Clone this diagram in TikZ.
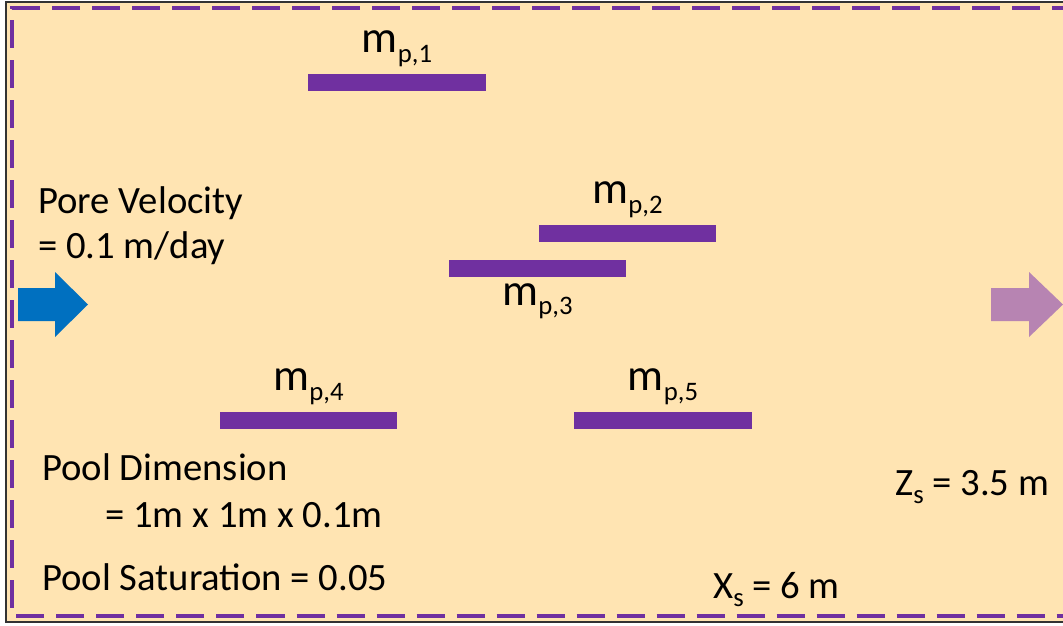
\documentclass[tikz,border=0pt]{standalone}
\usepackage{fontspec}
\setmainfont{Carlito}
\usepackage{tikz}
\usetikzlibrary{positioning}
\usepackage{xcolor}

\definecolor{sandbg}{RGB}{255,228,178}
\definecolor{poolpurple}{RGB}{112,48,160}
\definecolor{inblue}{RGB}{0,112,192}
\definecolor{outmauve}{RGB}{183,132,178}

\newcommand{\lowsub}[1]{\raisebox{-0.45ex}{\fontsize{19}{19}\selectfont #1}}

\begin{document}
\begin{tikzpicture}[
    x=0.025cm, y=-0.025cm,
    pool/.style={draw=none, fill=poolpurple, rectangle, inner sep=0pt, minimum width=4.425cm, minimum height=0.425cm},
    masslabel/.style={font=\fontsize{32}{36}\selectfont, inner sep=1pt},
    infotext/.style={font=\fontsize{27.5}{32}\selectfont, anchor=base west, inner sep=0pt}
]

\useasboundingbox (0,0) rectangle (1063,625);
\fill[sandbg] (6,2) rectangle (1063,622);
\draw[black!80, line width=2pt] (1063,2) -- (6,2) -- (6,622) -- (1063,622);
\draw[poolpurple, line width=2.8pt, dash pattern=on 0.7cm off 0.3cm]
    (1080,8) -- (12,8) -- (12,616) -- (1080,616);

% flow arrows
\fill[inblue] (18,288) -- (55,288) -- (55,272) -- (88,304.5) -- (55,337) -- (55,321) -- (18,321) -- cycle;
\fill[outmauve] (991,288) -- (1029,288) -- (1029,272) -- (1063,304.5) -- (1029,337) -- (1029,321) -- (991,321) -- cycle;

% pools
\node[pool] (pool1) at (397,82.5) {};
\node[pool] (pool2) at (627.5,233.5) {};
\node[pool] (pool3) at (537.5,268.5) {};
\node[pool] (pool4) at (308.5,420.5) {};
\node[pool] (pool5) at (663,420.5) {};

\node[masslabel, above=4pt of pool1] (lab1) {m\lowsub{p,1}};
\node[masslabel, above=4pt of pool2] (lab2) {m\lowsub{p,2}};
\node[masslabel, below=3pt of pool3] (lab3) {m\lowsub{p,3}};
\node[masslabel, above=4pt of pool4] (lab4) {m\lowsub{p,4}};
\node[masslabel, above=4pt of pool5] (lab5) {m\lowsub{p,5}};

% parameters
\node[infotext] (vel) at (38,213) {Pore Velocity};
\node[infotext] (velval) at (38,258) {= 0.1 m/day};
\node[infotext] (dim) at (42,480) {Pool Dimension};
\node[infotext] (dimval) at (105,527) {= 1m x 1m x 0.1m};
\node[infotext] (sat) at (42,590) {Pool Saturation = 0.05};
\node[infotext] (xs) at (713,598) {X\lowsub{s} = 6 m};
\node[infotext] (zs) at (895,495) {Z\lowsub{s} = 3.5 m};
\end{tikzpicture}
\end{document}
